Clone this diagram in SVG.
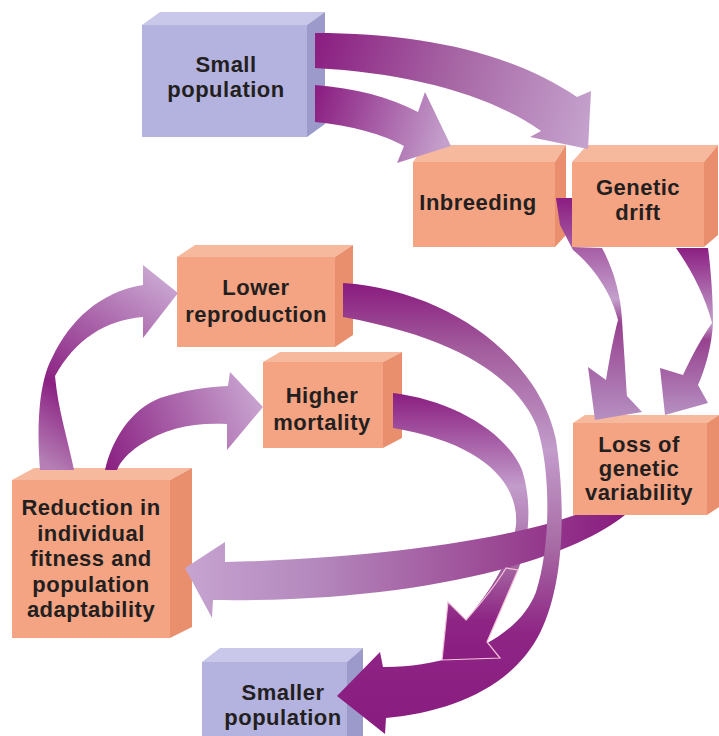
<svg xmlns="http://www.w3.org/2000/svg" width="719" height="736" viewBox="0 0 719 736">
<defs>
<style>
.fo{fill:#f4a383}.to{fill:#f7b99e}.ro{fill:#e98f6e}
.fl{fill:#b4b2de}.tl{fill:#c9c7ea}.rl{fill:#9c99cb}
text{font-family:"Liberation Sans",Arial,sans-serif;font-weight:bold;font-size:22px;fill:#231f20;text-anchor:middle;letter-spacing:0.5px}
</style>
<linearGradient id="gA" gradientUnits="userSpaceOnUse" x1="315" y1="50" x2="585" y2="130"><stop offset="0" stop-color="#8b1f82"/><stop offset="0.5" stop-color="#a767a5"/><stop offset="1" stop-color="#c4a0cc"/></linearGradient>
<linearGradient id="gB" gradientUnits="userSpaceOnUse" x1="315" y1="100" x2="445" y2="140"><stop offset="0" stop-color="#8b1f82"/><stop offset="1" stop-color="#c4a0cc"/></linearGradient>
<linearGradient id="gC" gradientUnits="userSpaceOnUse" x1="0" y1="200" x2="0" y2="420"><stop offset="0" stop-color="#8b1f82"/><stop offset="0.45" stop-color="#c4a0cc"/><stop offset="0.56" stop-color="#97428f"/><stop offset="1" stop-color="#b690c2"/></linearGradient>
<linearGradient id="gR" gradientUnits="userSpaceOnUse" x1="0" y1="248" x2="0" y2="415"><stop offset="0" stop-color="#8b1f82"/><stop offset="0.45" stop-color="#c4a0cc"/><stop offset="0.55" stop-color="#97428f"/><stop offset="1" stop-color="#b690c2"/></linearGradient>
<linearGradient id="gD" gradientUnits="userSpaceOnUse" x1="0" y1="285" x2="0" y2="720"><stop offset="0" stop-color="#8a1d80"/><stop offset="0.15" stop-color="#a35e9d"/><stop offset="0.38" stop-color="#c29ccb"/><stop offset="0.6" stop-color="#a86ba4"/><stop offset="0.8" stop-color="#8e2585"/><stop offset="1" stop-color="#8a1d80"/></linearGradient>
<linearGradient id="gE" gradientUnits="userSpaceOnUse" x1="0" y1="393" x2="0" y2="660"><stop offset="0" stop-color="#8a1d80"/><stop offset="0.35" stop-color="#c29ccb"/><stop offset="0.65" stop-color="#a465a0"/><stop offset="0.85" stop-color="#8e2585"/><stop offset="1" stop-color="#8a1d80"/></linearGradient>
<linearGradient id="gF" gradientUnits="userSpaceOnUse" x1="620" y1="0" x2="185" y2="0"><stop offset="0" stop-color="#8a1d80"/><stop offset="0.3" stop-color="#9c4b95"/><stop offset="0.7" stop-color="#b488bd"/><stop offset="1" stop-color="#c6a4d0"/></linearGradient>
<linearGradient id="gG" gradientUnits="userSpaceOnUse" x1="55" y1="470" x2="178" y2="290"><stop offset="0" stop-color="#b57fb5"/><stop offset="0.32" stop-color="#8b2283"/><stop offset="1" stop-color="#c8a4d0"/></linearGradient>
<linearGradient id="gH" gradientUnits="userSpaceOnUse" x1="110" y1="470" x2="263" y2="407"><stop offset="0" stop-color="#8b2283"/><stop offset="1" stop-color="#c8a4d0"/></linearGradient>
</defs>
<rect width="719" height="736" fill="#ffffff"/>
<g id="small-population">
<rect class="fl" x="142" y="25" width="165" height="112"/>
<polygon class="tl" points="142,25 160,12 325,12 307,25"/>
<polygon class="rl" points="307,25 325,12 325,124 307,137"/>
<text x="226" y="72">Small</text><text x="226" y="97">population</text>
</g>
<g id="inbreeding">
<rect class="fo" x="413" y="162" width="142" height="85"/>
<polygon class="to" points="413,162 425,145 566,145 555,162"/>
<polygon class="ro" points="555,162 566,145 566,235 555,247"/>
<text x="478" y="210">Inbreeding</text>
</g>
<g id="genetic-drift">
<rect class="fo" x="572" y="162" width="132" height="85"/>
<polygon class="to" points="572,162 587,145 718,145 704,162"/>
<polygon class="ro" points="704,162 718,145 718,235 704,247"/>
<text x="638" y="195">Genetic</text><text x="638" y="220">drift</text>
</g>
<g id="lower-reproduction">
<rect class="fo" x="177" y="257" width="158" height="90"/>
<polygon class="to" points="177,257 195,245 353,245 335,257"/>
<polygon class="ro" points="335,257 353,245 353,335 335,347"/>
<text x="256" y="295">Lower</text><text x="256" y="322">reproduction</text>
</g>
<g id="higher-mortality">
<rect class="fo" x="263" y="362" width="120" height="86"/>
<polygon class="to" points="263,362 280,352 402,352 383,362"/>
<polygon class="ro" points="383,362 402,352 402,438 383,448"/>
<text x="322" y="403">Higher</text><text x="322" y="430">mortality</text>
</g>
<g id="loss-of-genetic-variability">
<rect class="fo" x="573" y="423" width="134" height="92"/>
<polygon class="to" points="573,423 585,415 719,415 707,423"/>
<polygon class="ro" points="707,423 719,415 719,507 707,515"/>
<text x="639" y="452">Loss of</text><text x="639" y="476">genetic</text><text x="639" y="500">variability</text>
</g>
<g id="reduction-in-fitness">
<rect class="fo" x="12" y="480" width="158" height="158"/>
<polygon class="to" points="12,480 34,468 192,468 170,480"/>
<polygon class="ro" points="170,480 192,468 192,627 170,638"/>
<text x="91" y="515">Reduction in</text><text x="91" y="541">individual</text><text x="91" y="566">fitness and</text><text x="91" y="592">population</text><text x="91" y="617">adaptability</text>
</g>
<g id="smaller-population">
<rect class="fl" x="202" y="662" width="145" height="74"/>
<polygon class="tl" points="202,662 220,648 363,648 347,662"/>
<polygon class="rl" points="347,662 363,648 363,736 347,736"/>
<text x="283" y="700">Smaller</text><text x="283" y="725">population</text>
</g>
<g id="connectors">
<path fill="url(#gA)" d="M315,33 C420,33 510,52 577,97 L591,91 L588,149 L530,137 L541,131 C490,95 410,73 315,68 Z"/>
<path fill="url(#gB)" d="M315,85 C355,88 390,97 418,112 L425,92 L451,146 L397,163 L404,146 C385,135 350,125 315,122 Z"/>
<path fill="url(#gC)" d="M556,198 L572,198 L572,247 L602,248 C613,268 621,295 622,320 C624,350 626,380 627,396 L642,412 L595,420 L588,367 L606,380 C610,355 614,335 618,320 C612,295 595,268 573,250 L560,225 Z"/>
<path fill="url(#gR)" d="M676,248 L708,248 C711,270 713,300 713,323 C712,345 705,370 698,385 L708,403 L665,415 L660,368 L683,375 C690,360 700,340 712,323 C705,295 690,268 676,248 Z"/>
<path fill="url(#gG)" d="M40,470 C36,420 40,380 52,358 C70,320 100,292 143,285 L143,265 L178,293 L143,338 L143,317 C105,320 75,340 55,376 C58,410 68,440 74,470 Z"/>
<path fill="url(#gH)" d="M105,470 C112,440 130,410 160,398 C185,390 205,387 228,386 L230,372 L263,407 L227,450 L227,424 C195,422 165,428 140,445 C128,453 120,462 117,470 Z"/>
<path fill="url(#gE)" d="M393,393 C450,400 505,430 522,470 C532,500 530,540 518,570 L487,642 L500,658 L442,660 L448,602 L466,620 C490,592 512,558 516,525 C519,482 482,443 393,428 Z"/>
<path fill="url(#gF)" d="M575,515 L625,515 C570,560 420,603 213,600 L212,618 L185,568 L225,542 L225,562 C400,558 520,535 575,515 Z"/>
<path fill="url(#gD)" d="M343,283 C450,290 540,360 556,440 C565,500 566,580 540,633 C512,688 450,712 386,718 L385,734 L337,696 L380,652 L383,667 C450,668 518,640 536,592 C551,545 551,470 537,427 C520,385 470,340 343,317 Z"/>
<path fill="url(#gE)" stroke="#f3c4da" stroke-width="1.2" d="M518,570 L487,642 L500,658 L442,660 L448,602 L466,620 C482,602 496,585 506,568 Z"/>
</g>
</svg>
